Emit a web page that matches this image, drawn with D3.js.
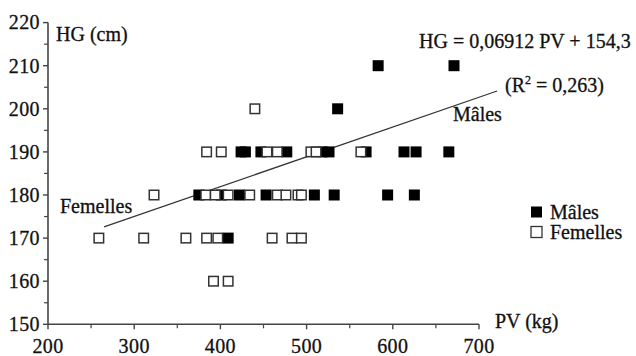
<!DOCTYPE html>
<html><head><meta charset="utf-8">
<script src="https://cdn.jsdelivr.net/npm/d3@7"></script>
<style>
html,body{margin:0;padding:0;background:#fff;}
svg text{font-family:"Liberation Serif","Times New Roman",serif;fill:#111;stroke:#111;stroke-width:0.3px;}
</style></head>
<body><svg id="chart" width="636" height="356"></svg>
<script>
// ---- data ----
const xTicks = [200, 300, 400, 500, 600, 700];
const yTicks = [150, 160, 170, 180, 190, 200, 210, 220];
const malesPV = [583, 671, 536,
  424, 429, 447, 477, 518, 526, 569, 613, 627, 665,
  375, 401, 422, 453, 509, 532, 594, 625,
  409];
const malesHG = [210, 210, 200,
  190, 190, 190, 190, 190, 190, 190, 190, 190, 190,
  180, 180, 180, 180, 180, 180, 180, 180,
  170];
const femalesPV = [440,
  384, 401, 454, 466, 505, 511, 563,
  323, 383, 394, 409, 434, 466, 476, 490, 494,
  259, 311, 360, 384, 397, 460, 483, 494,
  392, 409];
const femalesHG = [200,
  190, 190, 190, 190, 190, 190, 190,
  180, 180, 180, 180, 180, 180, 180, 180, 180,
  170, 170, 170, 170, 170, 170, 170, 170,
  160, 160];
const regSlope = 0.06912, regIntercept = 154.3;
const regPV = [265, 721];

// ---- layout ----
const svg = d3.select("#chart");
const x = d3.scaleLinear().domain([200, 700]).range([48, 479]);
const y = d3.scaleLinear().domain([150, 220]).range([324.3, 22.6]);
const axisColor = "#444";

// x axis
const gx = svg.append("g").attr("transform", `translate(0,${y(150)})`);
gx.append("line").attr("x1", x(200)).attr("x2", x(700)).attr("stroke", axisColor).attr("stroke-width", 1.6);
const xMinor = d3.range(250, 700, 100);
gx.selectAll("line.maj").data(xTicks).join("line").attr("class","maj")
  .attr("x1", d => x(d)).attr("x2", d => x(d)).attr("y1", 0).attr("y2", 5)
  .attr("stroke", axisColor).attr("stroke-width", 1.4);
gx.selectAll("line.min").data(xMinor).join("line").attr("class","min")
  .attr("x1", d => x(d)).attr("x2", d => x(d)).attr("y1", 0).attr("y2", 4)
  .attr("stroke", axisColor).attr("stroke-width", 1.2);
gx.selectAll("text").data(xTicks).join("text")
  .attr("x", d => x(d)).attr("y", 29).attr("text-anchor", "middle")
  .attr("font-size", 20).attr("letter-spacing", 0.4).text(d => d);

// y axis
const gy = svg.append("g").attr("transform", `translate(${x(200)},0)`);
gy.append("line").attr("y1", y(150)).attr("y2", y(220)).attr("stroke", axisColor).attr("stroke-width", 1.6);
const yMinor = d3.range(155, 220, 10);
gy.selectAll("line.maj").data(yTicks).join("line").attr("class","maj")
  .attr("y1", d => y(d)).attr("y2", d => y(d)).attr("x1", 0).attr("x2", -5)
  .attr("stroke", axisColor).attr("stroke-width", 1.4);
gy.selectAll("line.min").data(yMinor).join("line").attr("class","min")
  .attr("y1", d => y(d)).attr("y2", d => y(d)).attr("x1", 0).attr("x2", -4)
  .attr("stroke", axisColor).attr("stroke-width", 1.2);
gy.selectAll("text").data(yTicks).join("text")
  .attr("x", -8).attr("y", d => y(d) + 6.8).attr("text-anchor", "end")
  .attr("font-size", 20).attr("letter-spacing", 0.4).text(d => d);

// axis titles
svg.append("text").attr("x", 56).attr("y", 41).attr("font-size", 20).text("HG (cm)");
svg.append("text").attr("x", 495).attr("y", 328).attr("font-size", 20).text("PV (kg)");

// regression line
svg.append("line")
  .attr("x1", x(regPV[0])).attr("y1", y(regSlope * regPV[0] + regIntercept))
  .attr("x2", x(regPV[1])).attr("y2", y(regSlope * regPV[1] + regIntercept))
  .attr("stroke", "#333").attr("stroke-width", 1.2);

// points
const s = 11;
const males = malesPV.map((v, i) => ({pv: v, hg: malesHG[i]}));
const females = femalesPV.map((v, i) => ({pv: v, hg: femalesHG[i]}));
svg.append("g").selectAll("rect").data(males).join("rect")
  .attr("x", d => x(d.pv) - s/2).attr("y", d => y(d.hg) - s/2)
  .attr("width", s).attr("height", s).attr("fill", "#000");
svg.append("g").selectAll("rect").data(females).join("rect")
  .attr("x", d => x(d.pv) - (s-1.5)/2).attr("y", d => y(d.hg) - (s-1.5)/2)
  .attr("width", s-1.5).attr("height", s-1.5).attr("fill", "#fff")
  .attr("stroke", "#333").attr("stroke-width", 1.5);

// annotations
svg.append("text").attr("x", 419).attr("y", 48).attr("font-size", 20).text("HG = 0,06912 PV + 154,3");
const r2 = svg.append("text").attr("x", 505).attr("y", 92).attr("font-size", 20);
r2.append("tspan").text("(R");
r2.append("tspan").attr("font-size", 12).attr("dy", -8).text("2");
r2.append("tspan").attr("dy", 8).text(" = 0,263)");
svg.append("text").attr("x", 453).attr("y", 121).attr("font-size", 20).text("Mâles");
svg.append("text").attr("x", 60).attr("y", 213).attr("font-size", 20).text("Femelles");

// legend
const leg = [{label: "Mâles", fill: "#000"}, {label: "Femelles", fill: "#fff"}];
const lg = svg.append("g");
leg.forEach((d, i) => {
  const yy = 212 + i * 20;
  lg.append("rect").attr("x", 531).attr("y", yy - 5.5).attr("width", 11).attr("height", 11)
    .attr("fill", d.fill).attr("stroke", d.fill === "#000" ? "none" : "#333").attr("stroke-width", 1.3);
  lg.append("text").attr("x", 550).attr("y", yy + 6.5).attr("font-size", 20).text(d.label);
});
</script></body></html>
